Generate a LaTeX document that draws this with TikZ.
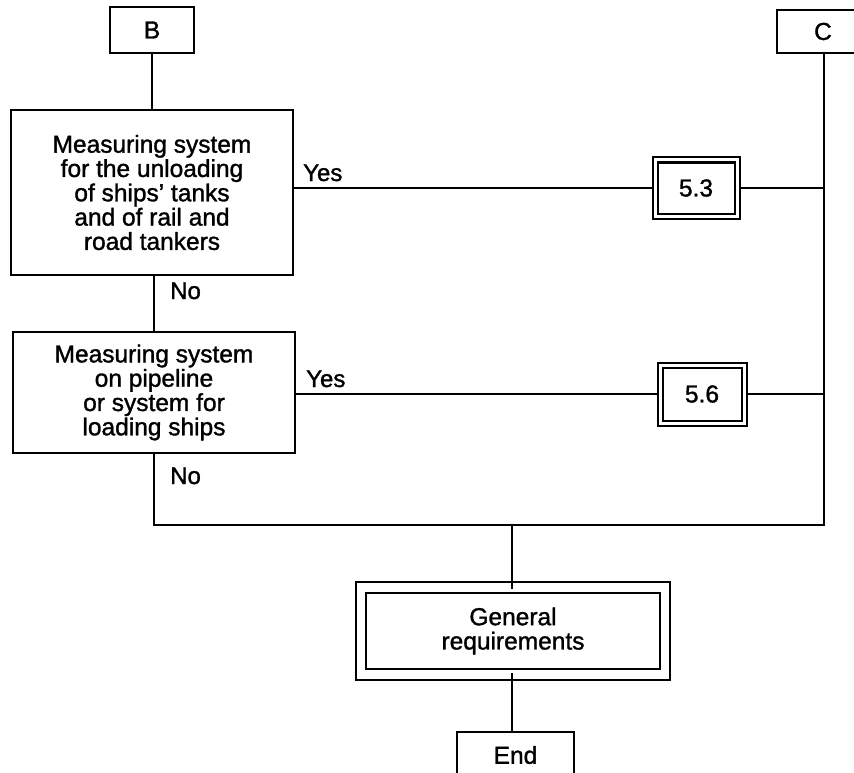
\documentclass[tikz,border=0pt]{standalone}
\usepackage{fontspec}
\setmainfont{Liberation Sans}[FakeBold=1.3]
\begin{document}
\begin{tikzpicture}[x=1pt,y=-1pt,
  box/.style={draw, line width=2pt, inner sep=0pt, align=center, font=\fontsize{24.5}{24.3}\selectfont},
  dbox/.style={box, double, double distance=#1},
  lbl/.style={inner sep=0pt, font=\fontsize{24}{24}\selectfont},
  conn/.style={line width=2pt}]
\useasboundingbox (0,0) rectangle (854,773);
\clip (0,0) rectangle (854,773);
\node[box, minimum width=84pt, minimum height=46pt] (B) at (152,30) {B};
\node[box, minimum width=92pt, minimum height=43pt] (C) at (823,31.5) {C};
\node[box, minimum width=282pt, minimum height=165pt] (q1) at (152,192.5)
  {Measuring system\\for the unloading\\of ships' tanks\\and of rail and\\road tankers};
\node[box, minimum width=282pt, minimum height=121pt] (q2) at (154,392.5)
  {Measuring system\\on pipeline\\or system for\\loading ships};
\node[dbox=3pt, minimum width=82pt, minimum height=56pt] (n53) at (696,188) {5.3};
\node[dbox=3pt, minimum width=84pt, minimum height=58pt] (n56) at (702,394) {5.6};
\node[dbox=8.5pt, minimum width=304pt, minimum height=87pt] (gen) at (513,631) {General\\requirements};
\node[box, minimum width=117pt, minimum height=46pt] (end) at (515.5,755) {End};
\coordinate (jl) at (154,525);
\coordinate (jr) at (824,525);
\coordinate (jm) at (512,525);
\node[lbl, anchor=base west] (y1) at (303,181) {Yes};
\node[lbl, anchor=base west] (y2) at (306,387) {Yes};
\node[lbl, anchor=base west] (no1) at (170,299) {No};
\node[lbl, anchor=base west] (no2) at (170,484) {No};
\draw[conn] (B.south) -- (q1.north -| B.south);
\draw[conn] (q1.south -| q2.north) -- (q2.north);
\draw[conn] (q2.south) -- (jl) -- (jr) -- (jr |- C.south);
\draw[conn] (jm) -- ([yshift=-2.5pt]gen.north -| jm);
\draw[conn] ([yshift=2.5pt]gen.south -| jm) -- (end.north -| jm);
\draw[conn] (n53.west -| q1.east) -- ([xshift=-2.5pt]n53.west);
\draw[conn] ([xshift=2.5pt]n53.east) -- (n53.east -| jr);
\draw[conn] (n56.west -| q2.east) -- ([xshift=-2.5pt]n56.west);
\draw[conn] ([xshift=2.5pt]n56.east) -- (n56.east -| jr);
\end{tikzpicture}
\end{document}
